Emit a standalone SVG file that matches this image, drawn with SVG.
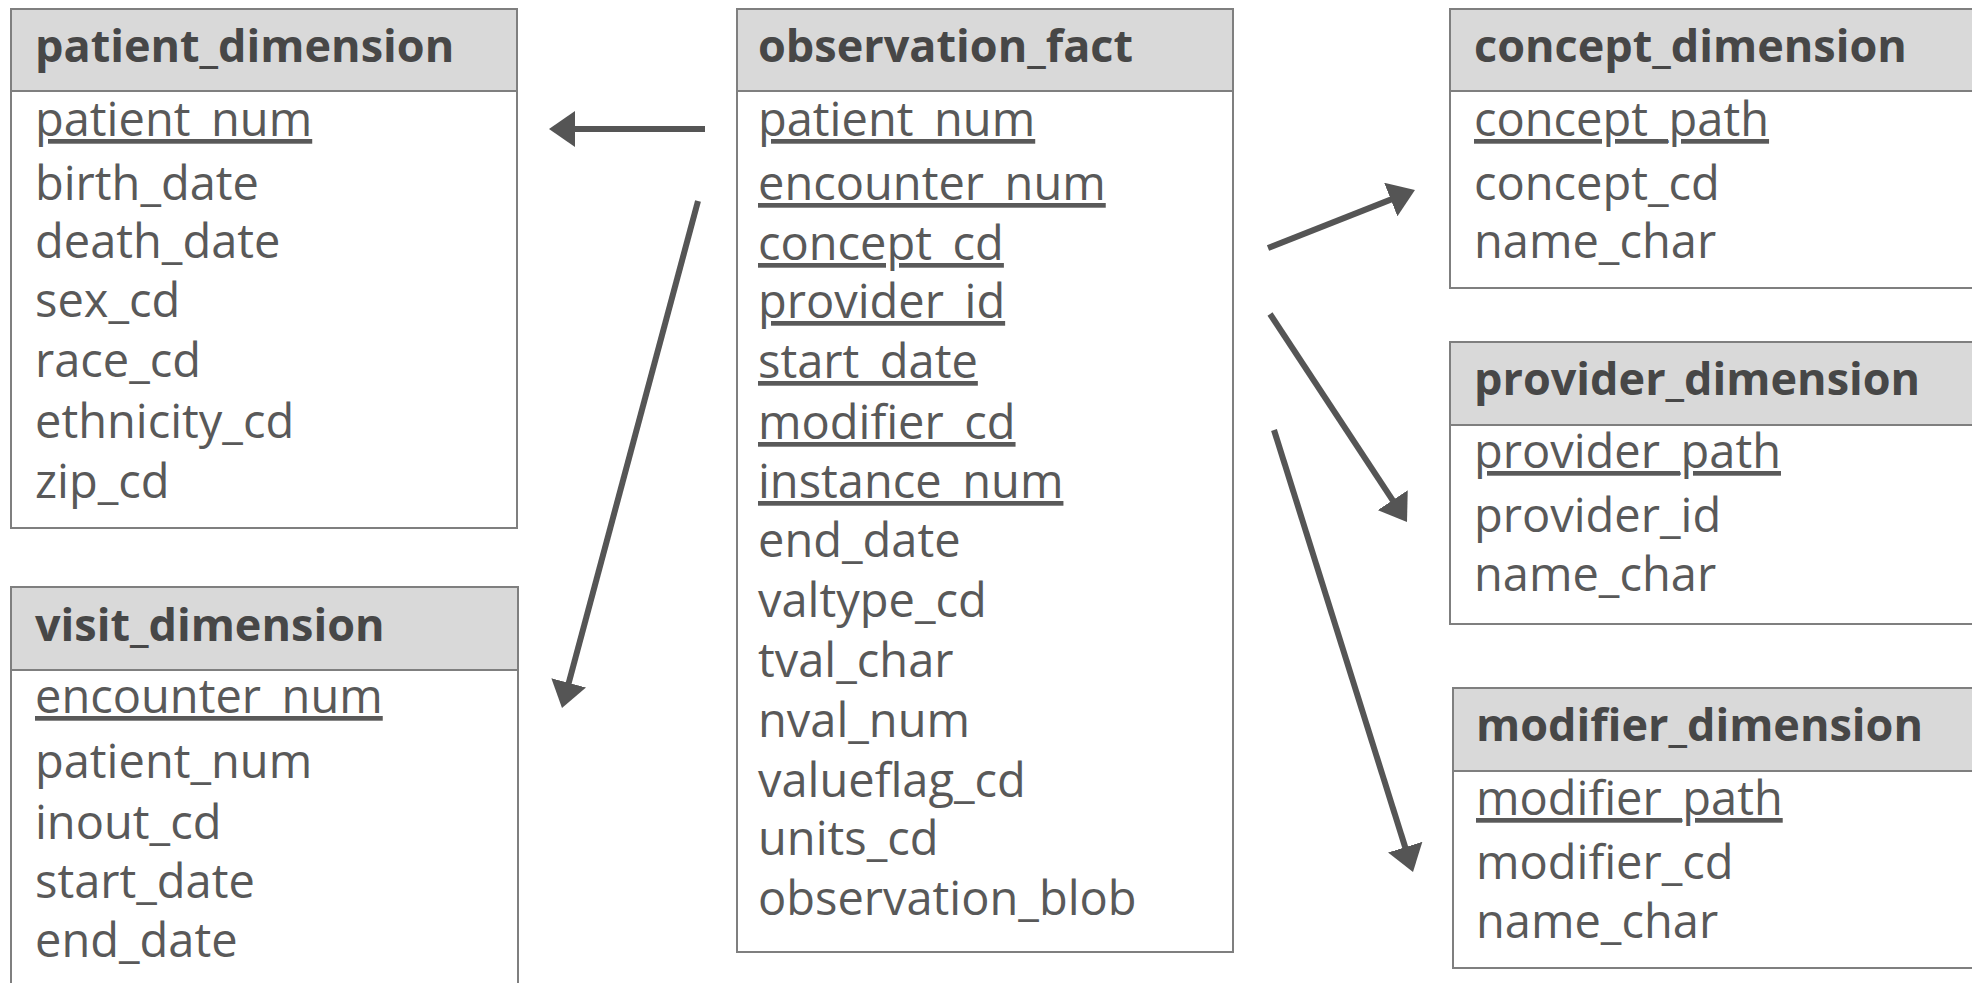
<svg xmlns="http://www.w3.org/2000/svg" width="1972" height="983" viewBox="0 0 1972 983">
<defs>
<style>
.box{fill:#ffffff;stroke:#7f7f7f;stroke-width:2}
.hdr{fill:#d9d9d9;stroke:#7f7f7f;stroke-width:2}
.title{font-family:"Open Sans","Noto Sans",sans-serif;font-weight:bold;font-size:45px;fill:#474747}
.f{font-family:"Open Sans","Noto Sans",sans-serif;font-size:47px;fill:#595959}
.k{text-decoration:underline}
.conn{stroke:#555555;stroke-width:6;fill:none;marker-end:url(#ah)}
</style>
<marker id="ah" markerUnits="userSpaceOnUse" viewBox="0 0 26 36" refX="4" refY="18" markerWidth="26" markerHeight="36" orient="auto">
<path d="M0,0 L26,18 L0,36 z" fill="#555555"/>
</marker>
</defs>
<rect width="1972" height="983" fill="#ffffff"/>

<g id="patient_dimension">
<rect class="box" x="11" y="9" width="506" height="519"/>
<rect class="hdr" x="11" y="9" width="506" height="82"/>
<text class="title" x="35" y="62">patient_dimension</text>
<text class="f k" x="35" y="136">patient_num</text>
<text class="f" x="35" y="200">birth_date</text>
<text class="f" x="35" y="258">death_date</text>
<text class="f" x="35" y="317">sex_cd</text>
<text class="f" x="35" y="377">race_cd</text>
<text class="f" x="35" y="438">ethnicity_cd</text>
<text class="f" x="35" y="498">zip_cd</text>
</g>

<g id="visit_dimension">
<rect class="box" x="11" y="587" width="507" height="420"/>
<rect class="hdr" x="11" y="587" width="507" height="83"/>
<text class="title" x="35" y="641">visit_dimension</text>
<text class="f k" x="35" y="713">encounter_num</text>
<text class="f" x="35" y="778">patient_num</text>
<text class="f" x="35" y="839">inout_cd</text>
<text class="f" x="35" y="898">start_date</text>
<text class="f" x="35" y="957">end_date</text>
</g>

<g id="observation_fact">
<rect class="box" x="737" y="9" width="496" height="943"/>
<rect class="hdr" x="737" y="9" width="496" height="82"/>
<text class="title" x="758" y="62">observation_fact</text>
<text class="f k" x="758" y="136">patient_num</text>
<text class="f k" x="758" y="200">encounter_num</text>
<text class="f k" x="758" y="260">concept_cd</text>
<text class="f k" x="758" y="318">provider_id</text>
<text class="f k" x="758" y="378">start_date</text>
<text class="f k" x="758" y="439">modifier_cd</text>
<text class="f k" x="758" y="498">instance_num</text>
<text class="f" x="758" y="557">end_date</text>
<text class="f" x="758" y="617">valtype_cd</text>
<text class="f" x="758" y="677">tval_char</text>
<text class="f" x="758" y="737">nval_num</text>
<text class="f" x="758" y="797">valueflag_cd</text>
<text class="f" x="758" y="855">units_cd</text>
<text class="f" x="758" y="915">observation_blob</text>
</g>

<g id="concept_dimension">
<rect class="box" x="1450" y="9" width="600" height="279"/>
<rect class="hdr" x="1450" y="9" width="600" height="82"/>
<text class="title" x="1474" y="62">concept_dimension</text>
<text class="f k" x="1474" y="136">concept_path</text>
<text class="f" x="1474" y="200">concept_cd</text>
<text class="f" x="1474" y="258">name_char</text>
</g>

<g id="provider_dimension">
<rect class="box" x="1450" y="342" width="600" height="282"/>
<rect class="hdr" x="1450" y="342" width="600" height="83"/>
<text class="title" x="1474" y="395">provider_dimension</text>
<text class="f k" x="1474" y="468">provider_path</text>
<text class="f" x="1474" y="532">provider_id</text>
<text class="f" x="1474" y="591">name_char</text>
</g>

<g id="modifier_dimension">
<rect class="box" x="1453" y="688" width="600" height="280"/>
<rect class="hdr" x="1453" y="688" width="600" height="83"/>
<text class="title" x="1476" y="741">modifier_dimension</text>
<text class="f k" x="1476" y="815">modifier_path</text>
<text class="f" x="1476" y="879">modifier_cd</text>
<text class="f" x="1476" y="938">name_char</text>
</g>

<g id="connectors">
<line class="conn" x1="705" y1="129" x2="571" y2="129"/>
<line class="conn" x1="698" y1="201" x2="567.7" y2="686.7"/>
<line class="conn" x1="1268" y1="248" x2="1394.5" y2="198.1"/>
<line class="conn" x1="1270" y1="314" x2="1394.9" y2="503.6"/>
<line class="conn" x1="1274" y1="430" x2="1406.4" y2="851"/>
</g>
</svg>
